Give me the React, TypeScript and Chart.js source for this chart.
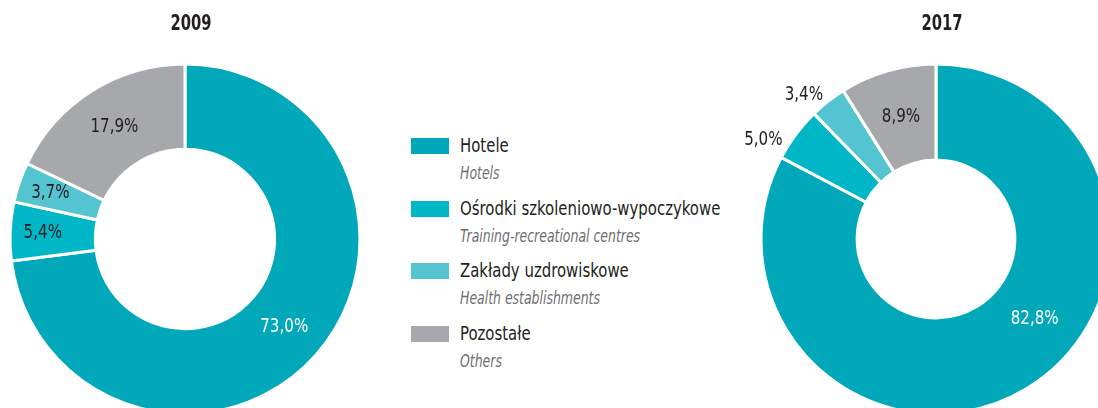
import React, { useEffect, useRef } from "react";
import { Chart, registerables } from "chart.js";

Chart.register(...registerables);

const categoriesPl = ["Hotele", "Ośrodki szkoleniowo-wypoczykowe", "Zakłady uzdrowiskowe", "Pozostałe"];
const categoriesEn = ["Hotels", "Training-recreational centres", "Health establishments", "Others"];
const years = ["2009", "2017"];
const values2009 = [73.0, 5.4, 3.7, 17.9];
const values2017 = [82.8, 5.0, 3.4, 8.9];
const sliceColors = ["#00a8ba", "#00b7c7", "#55c4d1", "#a7a8ab"];

const FONT = '"DejaVu Sans Condensed", "DejaVu Sans", sans-serif';
const DARK = "#231f20";
const GREY = "#6d6e71";

function drawSquished(ctx: any, text: string, x: number, y: number, sx: number, align: string) {
  ctx.save();
  ctx.translate(x, y);
  ctx.scale(sx, 1);
  ctx.textAlign = align;
  ctx.fillText(text, 0, 0);
  ctx.restore();
}

const sliceLabelPlugin = {
  id: "sliceLabels",
  afterDatasetsDraw(chart: any, _args: any, opts: any) {
    const ctx = chart.ctx;
    const meta = chart.getDatasetMeta(0);
    const data = chart.data.datasets[0].data as number[];
    ctx.save();
    ctx.font = `${opts.size}px ${FONT}`;
    ctx.textBaseline = "middle";
    meta.data.forEach((arc: any, i: number) => {
      const p = arc.getProps(["x", "y", "startAngle", "endAngle", "innerRadius", "outerRadius"], true);
      const override = opts.angleOverride ? opts.angleOverride[i] : null;
      const mid = override != null ? (override * Math.PI) / 180 : (p.startAngle + p.endAngle) / 2;
      const span = p.endAngle - p.startAngle;
      const text = data[i].toFixed(1).replace(".", ",") + "%";
      const outside = opts.outside[i];
      let r: number;
      let align: string;
      if (outside) {
        r = p.outerRadius + opts.outsideGap;
        align = Math.cos(mid) < 0 ? "right" : "left";
      } else {
        r = (p.innerRadius + p.outerRadius) / 2 + (span < 0.45 ? 10 : 0);
        align = "center";
      }
      ctx.fillStyle = opts.colors[i];
      drawSquished(ctx, text, p.x + Math.cos(mid) * r, p.y + Math.sin(mid) * r, opts.squish, align);
    });
    ctx.font = `bold ${opts.titleSize}px ${FONT}`;
    ctx.fillStyle = DARK;
    const c = meta.data[0];
    drawSquished(ctx, opts.title, c.x + opts.titleDx, opts.titleY, opts.titleSquish, "center");
    ctx.restore();
  },
};

function Donut(props: {
  values: number[];
  title: string;
  outside: boolean[];
  angleOverride?: (number | null)[];
  left: number;
  width: number;
}) {
  const ref = useRef<HTMLCanvasElement | null>(null);
  useEffect(() => {
    if (!ref.current) return;
    const chart = new Chart(ref.current, {
      type: "doughnut",
      data: {
        labels: categoriesPl,
        datasets: [
          {
            data: props.values,
            backgroundColor: sliceColors,
            borderColor: "#ffffff",
            borderWidth: 3,
            radius: 175,
            cutout: 94,
          } as any,
        ],
      },
      options: {
        animation: false,
        responsive: false,
        layout: { padding: 0 },
        plugins: {
          legend: { display: false },
          tooltip: { enabled: false },
          title: { display: false },
          sliceLabels: {
            size: 20,
            squish: 0.84,
            colors: ["#ffffff", DARK, DARK, DARK],
            outside: props.outside,
            angleOverride: props.angleOverride,
            outsideGap: 8,
            title: props.title,
            titleSize: 21,
            titleSquish: 0.78,
            titleDx: 6,
            titleY: 25,
          },
        } as any,
      },
      plugins: [sliceLabelPlugin],
    });
    return () => chart.destroy();
  }, []);
  return (
    <canvas
      ref={ref}
      width={props.width}
      height={478}
      style={{ position: "absolute", left: props.left, top: 0, width: props.width, height: 478 }}
    />
  );
}

function Legend() {
  return (
    <div style={{ position: "absolute", left: 0, top: 0 }}>
      {categoriesPl.map((pl, i) => {
        const top = 133 + i * 62.7;
        return (
          <div key={pl} style={{ position: "absolute", left: 411, top, width: 400, height: 60 }}>
            <div
              style={{
                position: "absolute",
                left: 0,
                top: 5,
                width: 38,
                height: 16,
                background: sliceColors[i],
              }}
            />
            <div
              style={{
                position: "absolute",
                left: 49,
                top: 0,
                whiteSpace: "nowrap",
                fontFamily: FONT,
                fontSize: 19,
                lineHeight: "24px",
                color: DARK,
                transform: "scaleX(0.873)",
                transformOrigin: "left center",
              }}
            >
              {pl}
            </div>
            <div
              style={{
                position: "absolute",
                left: 49,
                top: 24,
                whiteSpace: "nowrap",
                fontFamily: FONT,
                fontSize: 17,
                fontStyle: "italic",
                lineHeight: "32px",
                color: GREY,
                transform: "scaleX(0.815)",
                transformOrigin: "left center",
              }}
            >
              {categoriesEn[i]}
            </div>
          </div>
        );
      })}
    </div>
  );
}

export default function App() {
  return (
    <div
      style={{
        position: "absolute",
        left: 0,
        top: 0,
        width: 1098,
        height: 408,
        overflow: "hidden",
        background: "#ffffff",
      }}
    >
      <Donut values={values2009} title={years[0]} outside={[false, false, false, false]} left={0} width={370} />
      <Legend />
      <Donut
        values={values2017}
        title={years[1]}
        outside={[false, true, true, false]}
        angleOverride={[39, 213, null, null]}
        left={726}
        width={420}
      />
    </div>
  );
}
